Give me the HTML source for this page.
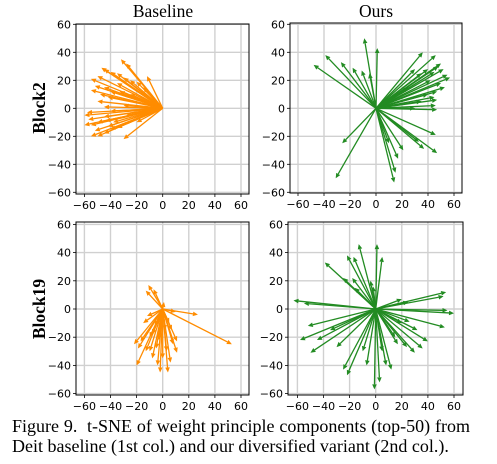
<!DOCTYPE html>
<html><head><meta charset="utf-8"><style>
body{margin:0;background:#fff;width:497px;height:464px;overflow:hidden;position:relative}
svg{position:absolute;left:0;top:0}
.cap{position:absolute;left:12px;width:458px;font-family:"Liberation Serif",serif;font-size:18px;line-height:20px;color:#000;text-align:justify;text-align-last:justify;white-space:nowrap}
</style></head><body>
<svg id="chart" width="497" height="464" xmlns="http://www.w3.org/2000/svg"></svg>
<div class="cap" style="top:416px">Figure 9.&nbsp; t-SNE of weight principle components (top-50) from</div>
<div class="cap" style="top:436px;text-align-last:left;width:auto">Deit baseline (1st col.) and our diversified variant (2nd col.).</div>
<script>
const ticks=[-60,-40,-20,0,20,40,60];
const tickLabels=["\u221260","\u221240","\u221220","0","20","40","60"];
const b2BaseX=[-32,-28,-12,-47,-45,-40,-35,-30,-50,-55,-52,-45,-40,-55,-48,-35,-25,-20,-42,-30,-45,-58,-60,-57,-60,-55,-50,-45,-40,-52,-50,-55,-45,-40,-35,-30,-42,-38,-20,-28,-33,-25,-15,-50,-44];
const b2BaseY=[35,32,23,29,28,26,25,22,23,21,16,15,12,13,10,18,20,19,8,2,1,-3,-5,-8,-12,-12,-10,-6,-2,-16,-20,-20,-18,-15,-14,-22,-13,-10,-10,-5,12,10,15,5,-9];
const b2OursX=[-9,1,-39,-48,-27,-18,-11,36,46,50,52,55,57,48,45,40,30,35,42,50,53,47,45,47,40,46,30,47,35,25,46,47,37,21,17,15,14,33,-26,-31,10,-5];
const b2OursY=[50,43,38,31,33,29,27,40,38,32,28,24,22,30,26,28,28,25,20,18,15,12,8,6,10,2,0,-1,5,15,-19,-32,-29,-30,-36,-46,-53,-24,-25,-50,-25,25];
const b19BaseX=[-11,-13,-7,1,27,53,-20,-22,-15,-10,-13,-8,-5,-2,4,0,3,8,11,11,7,5,-8,-17,-6,2,-3,-10,-19,-4,6,10,-12];
const b19BaseY=[17,13,14,5,-4,-25,-40,-25,-10,-20,-30,-35,-28,-45,-45,-35,-30,-25,-31,-23,-15,-10,-18,-23,-12,-15,-22,-30,-28,-40,-38,-2,-5];
const b19OursX=[-13,1,-22,-17,5,-39,-18,-25,-16,-2,-4,-63,-55,54,52,55,60,20,25,-52,-58,-45,-50,-30,-25,-22,-7,-1,3,8,12,17,24,30,36,40,53,32,20,26,15,-35,-10,5];
const b19OursY=[46,46,38,37,37,33,22,22,15,16,20,6,4,12,9,-1,-3,7,5,-12,-22,-22,-31,-27,-43,-47,-40,-57,-52,-40,-43,-25,-27,-31,-28,-23,-13,-15,-10,-9,-20,-15,-30,-30];

const svg=document.getElementById('chart');
const NS="http://www.w3.org/2000/svg";
function mk(tag,attrs,parent){const e=document.createElementNS(NS,tag);for(const k in attrs)e.setAttribute(k,attrs[k]);(parent||svg).appendChild(e);return e;}

const panels=[
 {name:'block2-baseline',L:76,R:249,T:24,B:194,x0:162.7,y0:108.3,xs:1.305,ys:1.4,X:b2BaseX,Y:b2BaseY,c:'#ff8c00'},
 {name:'block2-ours',L:290,R:462,T:23,B:193,x0:376,y0:108.3,xs:1.3,ys:1.4,X:b2OursX,Y:b2OursY,c:'#228b22'},
 {name:'block19-baseline',L:76,R:249,T:222,B:395,x0:162.7,y0:309,xs:1.305,ys:1.41,X:b19BaseX,Y:b19BaseY,c:'#ff8c00'},
 {name:'block19-ours',L:288,R:463,T:222,B:395,x0:375.7,y0:309,xs:1.305,ys:1.41,X:b19OursX,Y:b19OursY,c:'#228b22'}
];
panels.forEach(p=>{
 const g=mk('g',{});
 
 
 const sx=v=>p.x0+v*p.xs, sy=v=>p.y0-v*p.ys;
 ticks.forEach((t,i)=>{
  const gx=mk('line',{x1:sx(t),x2:sx(t),y1:p.T,y2:p.B,stroke:'#d0d0d0','stroke-width':1.4},g);
  
  
  const gy=mk('line',{x1:p.L,x2:p.R,y1:sy(t),y2:sy(t),stroke:'#d0d0d0','stroke-width':1.4},g);
  
  
  mk('line',{x1:sx(t),x2:sx(t),y1:p.B,y2:p.B+3,stroke:'#000','stroke-width':0.8},g);
  mk('line',{x1:p.L-3,x2:p.L,y1:sy(t),y2:sy(t),stroke:'#000','stroke-width':0.8},g);
  const tx=mk('text',{x:sx(t),y:p.B+15,'text-anchor':'middle','font-family':'DejaVu Sans, sans-serif','font-size':11},g);
  tx.textContent=tickLabels[i];
  
  
  const ty=mk('text',{x:p.L-5,y:sy(t)+4,'text-anchor':'end','font-family':'DejaVu Sans, sans-serif','font-size':11},g);
  ty.textContent=tickLabels[i];
  
  
 });
 p.X.forEach((vx,i)=>{
  const x1=sx(vx),y1=sy(p.Y[i]);
  const dx=x1-p.x0,dy=y1-p.y0,len=Math.hypot(dx,dy)||1,ux=dx/len,uy=dy/len;
  const hl=5,hw=2.3;
  const bx=x1-ux*hl,by=y1-uy*hl;
  const a=mk('g',{},g);
  
  
  mk('line',{x1:p.x0,y1:p.y0,x2:bx,y2:by,stroke:p.c,'stroke-width':1.3},a);
  mk('polygon',{points:`${x1},${y1} ${bx-uy*hw},${by+ux*hw} ${bx+uy*hw},${by-ux*hw}`,fill:p.c},a);
 });
 const fr=mk('rect',{x:p.L,y:p.T,width:p.R-p.L,height:p.B-p.T,fill:'none',stroke:'#000','stroke-width':1},g);
 
 
});
function label(txt,x,y,name,rot,bold){
 const t=mk('text',{x:x,y:y,'text-anchor':'middle','font-family':'Liberation Serif, serif','font-size':17.5,'font-weight':bold?'bold':'normal'});
 if(rot)t.setAttribute('transform',`rotate(-90 ${x} ${y})`);
 t.textContent=txt;
 
 
}
label('Baseline',163,17,'baseline-column-title');
label('Ours',376,17,'ours-column-title');
label('Block2',45,108,'block2-row-label',true,true);
label('Block19',45,309,'block19-row-label',true,true);
</script>
</body></html>
